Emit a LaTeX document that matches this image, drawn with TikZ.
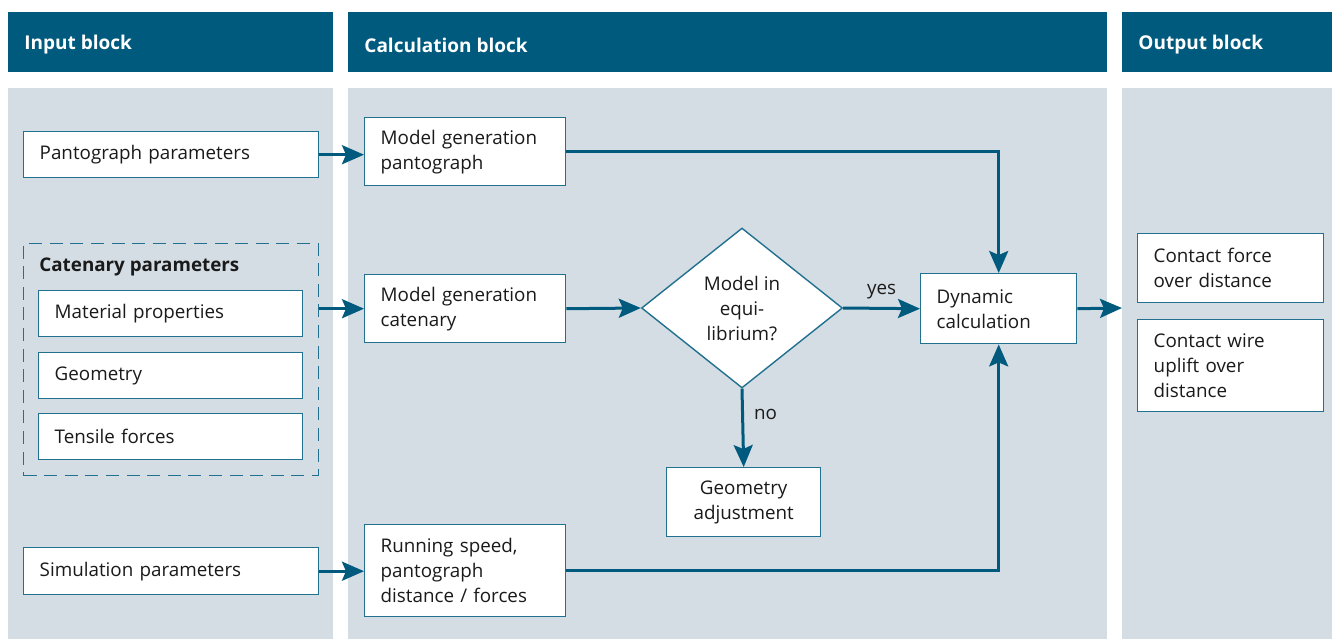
\documentclass[tikz,border=0pt]{standalone}
\usepackage{fontspec}
\setmainfont{Open Sans}
\usetikzlibrary{shapes.geometric,arrows.meta,calc}
\definecolor{hdr}{HTML}{005A7E}
\definecolor{panel}{HTML}{D4DDE4}
\definecolor{edge}{HTML}{21708F}
\definecolor{txt}{HTML}{1A1A1A}
\begin{document}
\begin{tikzpicture}[x=0.5pt,y=-0.5pt,
  hdrbar/.style={fill=hdr,draw=none},
  pnl/.style={fill=panel,draw=none},
  hdrtext/.style={anchor=west,text=white,font=\fontsize{9.5}{11}\selectfont\bfseries,inner sep=0pt},
  box/.style={draw=edge,fill=white,line width=0.7pt,anchor=north west,inner xsep=8pt,inner ysep=0pt,align=left,text=txt,font=\fontsize{9.4}{12.5}\selectfont},
  cbox/.style={box,align=center},
  arr/.style={draw=hdr,line width=1.5pt,-{Stealth[length=11pt,width=9.5pt,inset=2pt]}},
  lbl/.style={text=txt,font=\fontsize{9.4}{12.5}\selectfont,inner sep=0pt}
]
\useasboundingbox (0,0) rectangle (1340,639);
% panels
\fill[hdrbar] (8,12) rectangle (333,72);
\fill[hdrbar] (348,12) rectangle (1107,72);
\fill[hdrbar] (1122,12) rectangle (1332,72);
\fill[pnl] (8,88) rectangle (333,639);
\fill[pnl] (348,88) rectangle (1107,639);
\fill[pnl] (1122,88) rectangle (1332,639);
\node[hdrtext] (h1) at (24,45) {Input block};
\node[hdrtext] (h2) at (364,45) {Calculation block};
\node[hdrtext] (h3) at (1138,45) {Output block};
% input block
\node[box,text width=131.5pt,minimum height=23pt] (pp) at (23,131) {Pantograph parameters};
\node[draw=edge,line width=0.6pt,dash pattern=on 6.5pt off 3.8pt,minimum width=147.5pt,minimum height=116pt,anchor=north west,inner sep=0pt] (cat) at (23,243) {};
\node[lbl,anchor=west,font=\fontsize{9.4}{12.5}\selectfont\bfseries] (catl) at (39,267) {Catenary parameters};
\node[box,text width=116pt,minimum height=23pt] (mat) at (38,290) {Material properties};
\node[box,text width=116pt,minimum height=23pt] (geo) at (38,352) {Geometry};
\node[box,text width=116pt,minimum height=23pt] (ten) at (38,413) {Tensile forces};
\node[box,text width=131.5pt,minimum height=23.5pt] (sim) at (23,547) {Simulation parameters};
% calculation block
\node[box,text width=84.5pt,minimum height=34pt] (mgp) at (364,117) {Model generation\\pantograph};
\node[box,text width=84.5pt,minimum height=34pt] (mgc) at (364,274) {Model generation\\catenary};
\node[draw=edge,fill=white,line width=0.7pt,diamond,inner sep=0pt,minimum width=100.5pt,minimum height=80pt,align=center,text=txt,font=\fontsize{9.4}{12.5}\selectfont] (dia) at (742,308) {Model in\\equi-\\librium?};
\node[box,text width=62pt,minimum height=35pt] (dyn) at (920,273) {Dynamic\\calculation};
\node[cbox,text width=61pt,minimum height=34.5pt] (gad) at (666,467) {Geometry\\adjustment};
\node[box,text width=84.5pt,minimum height=46pt] (run) at (364,524) {Running speed,\\pantograph\\distance / forces};
% output block
\node[box,text width=77pt,minimum height=34.5pt] (cf) at (1137,233) {Contact force\\over distance};
\node[box,text width=77pt,minimum height=46pt] (cw) at (1137,319) {Contact wire\\uplift over\\distance};
\coordinate (out) at (1122,308);
% connectors
\draw[arr] (pp.east) -- (pp.east -| mgp.west);
\draw[arr] (cat.east |- mgc.west) -- (mgc.west);
\draw[arr] (sim.east) -- (sim.east -| run.west);
\draw[arr] (mgc.east) -- (dia.west);
\draw[arr] (dia.east) -- node[lbl,above=4pt] {yes} (dyn.west);
\draw[arr] (dia.south) -- node[lbl,right=5pt,pos=0.33] {no} (gad.north);
\draw[arr] (mgp.east) -| (dyn.north);
\draw[arr] (run.east) -| (dyn.south);
\draw[arr] (dyn.east) -- (out);
\end{tikzpicture}
\end{document}
